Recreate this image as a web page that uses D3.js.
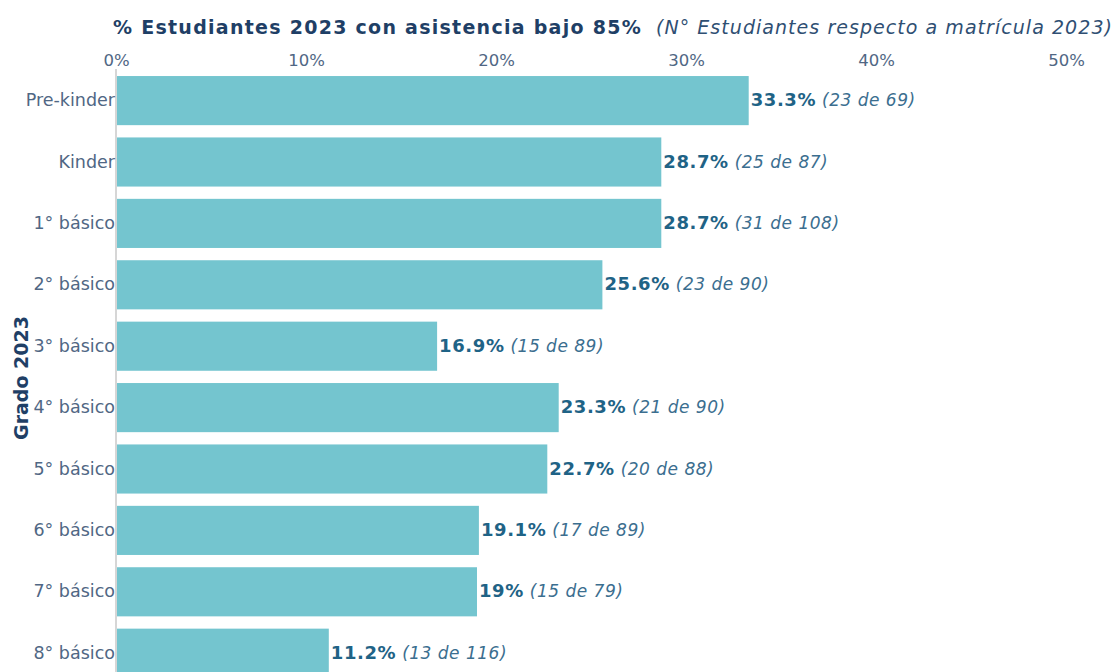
<!DOCTYPE html>
<html>
<head>
<meta charset="utf-8">
<script src="https://cdn.jsdelivr.net/npm/d3@7"></script>
<style>
  html, body { margin: 0; padding: 0; background: #fff; }
  svg { display: block; font-family: "DejaVu Sans", Verdana, sans-serif; }
</style>
</head>
<body>
<svg id="chart" width="1117" height="672"></svg>
<script>
const categories = ["Pre-kinder", "Kinder", "1° básico", "2° básico", "3° básico", "4° básico", "5° básico", "6° básico", "7° básico", "8° básico"];
const percents = [33.3, 28.7, 28.7, 25.6, 16.9, 23.3, 22.7, 19.1, 19, 11.2];
const counts = [23, 25, 31, 23, 15, 21, 20, 17, 15, 13];
const totals = [69, 87, 108, 90, 89, 90, 88, 89, 79, 116];
const tickValues = [0, 10, 20, 30, 40, 50];
const titleMain = "% Estudiantes 2023 con asistencia bajo 85%";
const titleSub = "(N° Estudiantes respecto a matrícula 2023)";
const yTitle = "Grado 2023";

const data = categories.map((c, i) => ({ cat: c, pct: percents[i], n: counts[i], tot: totals[i] }));

const svg = d3.select("#chart");
const left = 116, right = 1066;
const x = d3.scaleLinear().domain([0, 50]).range([left, right]);
const y = d3.scaleBand().domain(categories).range([69.9, 683.9]).paddingInner(0.2).paddingOuter(0.1);

// bars
svg.append("g").selectAll("rect").data(data).join("rect")
  .attr("x", x(0) + 1)
  .attr("y", d => y(d.cat))
  .attr("width", d => x(d.pct) - x(0) - 1)
  .attr("height", y.bandwidth())
  .attr("fill", "#74c5cf");

// axis line
svg.append("line").attr("x1", x(0)).attr("x2", x(0)).attr("y1", 69).attr("y2", 672)
  .attr("stroke", "#c8c8c8").attr("stroke-width", 1.5);

// top axis
const xAxis = d3.axisTop(x).tickValues(tickValues).tickFormat(d => d + "%").tickSize(0).tickPadding(0);
const gx = svg.append("g").attr("transform", "translate(0,66)").call(xAxis);
gx.select(".domain").remove();
gx.selectAll("text").attr("font-size", 16.5).attr("fill", "#506784")
  .attr("font-family", "DejaVu Sans, Verdana, sans-serif");

// y axis labels
const yAxis = d3.axisLeft(y).tickSize(0).tickPadding(1);
const gy = svg.append("g").attr("transform", `translate(${x(0)},0)`).call(yAxis);
gy.select(".domain").remove();
gy.selectAll("text").attr("font-size", 17.5).attr("fill", "#506784")
  .attr("font-family", "DejaVu Sans, Verdana, sans-serif");

// value labels
const lab = svg.append("g").selectAll("text").data(data).join("text")
  .attr("x", d => x(d.pct) + 2)
  .attr("y", d => y(d.cat) + y.bandwidth() / 2)
  .attr("dy", "0.35em");
lab.append("tspan").attr("font-weight", "bold").attr("fill", "#1f6386")
  .attr("font-size", 18).attr("letter-spacing", 0.6).text(d => d.pct + "%");
lab.append("tspan").attr("font-style", "italic").attr("fill", "#3b6e8f")
  .attr("font-size", 17).attr("letter-spacing", 0.5).text(d => ` (${d.n} de ${d.tot})`);

// title
const t = svg.append("text").attr("x", 113).attr("y", 34);
t.append("tspan").attr("font-weight", "bold").attr("fill", "#1f3f66")
  .attr("font-size", 19).attr("letter-spacing", 1.27).text(titleMain);
t.append("tspan").attr("font-style", "italic").attr("fill", "#2f4f73")
  .attr("font-size", 19).attr("letter-spacing", 1.05).attr("dx", 14).text(titleSub);

// y title
svg.append("text")
  .attr("transform", `translate(28,378) rotate(-90)`)
  .attr("text-anchor", "middle")
  .attr("font-size", 19).attr("font-weight", "bold").attr("fill", "#1f3f66")
  .text(yTitle);
</script>
</body>
</html>
